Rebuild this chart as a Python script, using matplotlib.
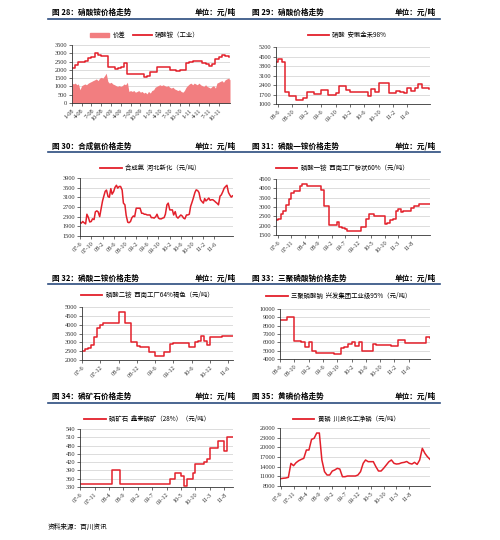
"""
Precios de productos químicos (fósforo / nitrógeno), 8 paneles.
"""

import numpy as np
import pandas as pd
import matplotlib
matplotlib.use('Agg')
import matplotlib.pyplot as plt
from matplotlib.lines import Line2D
from matplotlib.patches import Patch

plt.rcParams['font.family'] = ['Noto Sans CJK SC', 'DejaVu Sans']

ROJO = '#E3202B'
ROSA = '#F27E80'
AZUL = '#2B4C7E'
SERIF = 'Liberation Serif'

# ---------------- Datos ----------------
# Fig 28: nitrato de amonio (mensual) y diferencial (quincenal), desde 2008-01
p1_precio = [2100, 2300, 2500, 2500, 2550, 2700, 2750, 3000, 2900, 2850, 2850, 2200,
             2150, 2080, 2100, 2200, 2400, 1780, 1780, 1780, 1780, 1780, 1560, 1600,
             1880, 1880, 2160, 2160, 2160, 2160, 2020, 2020, 1920, 2020, 2020, 2420,
             2480, 2520, 2560, 2560, 2400, 2350, 2250, 2350, 2680, 2750, 2880, 2860,
             2750]
p1_spread = [1200, 1150, 1200, 1100, 1150, 800, 1050, 1100, 1150, 1100, 1200, 1250,
             1300, 1350, 1400, 1450, 1350, 1500, 1550, 1500, 1650, 1800, 1300, 1200,
             1250, 1150, 1100, 1050, 1000, 1050, 1000, 1050, 1150, 1100, 1250, 700,
             750, 700, 750, 650, 700, 750, 650, 700, 600, 650, 550, 700,
             600, 750, 800, 950, 1000, 1050, 1100, 1050, 1100, 1050, 1000, 1050,
             950, 900, 950, 850, 800, 750, 800, 700, 650, 750, 950, 1050,
             1150, 1200, 1100, 1200, 1150, 1100, 1200, 1100, 1050, 1000, 1100, 1000,
             950, 900, 1000, 1050, 900, 1200, 1250, 1300, 1350, 1250, 1400, 1450,
             1500, 1400]
p1_ticks = ['1-08', '4-08', '7-08', '10-08', '1-09', '4-09', '7-09', '10-09',
            '1-10', '4-10', '7-10', '10-10', '1-11', '4-11', '7-11', '10-11']

# Fig 29: ácido nítrico (mensual desde 2008-05)
p2_precio = [4100, 4350, 4100, 1900, 1600, 1600, 1300, 1300, 1450, 1900, 1850, 1750,
             1750, 2000, 2000, 1700, 1700, 1800, 2300, 2300, 2000, 1850, 1850, 1850,
             1850, 1850, 1600, 2100, 1850, 2550, 2550, 2550, 1800, 1800, 1950, 1900,
             1800, 2200, 1950, 2200, 2450, 2200, 2200, 2100]
p2_ticks = ['08-6', '08-10', '09-2', '09-6', '09-10', '10-2', '10-6', '10-10', '11-2', '11-6']

# Fig 30: amoníaco sintético (quincenal desde 2007-06)
p3_precio = [2070, 2030, 2100, 2050, 2000, 2400, 2260, 2080, 2100, 2210, 2180, 2500,
             2540, 2500, 2300, 2600, 2950, 3150, 3350, 3400, 3130, 3100, 3460, 3230,
             3340, 3510, 3600, 3480, 3550, 3550, 3400, 2860, 2790, 2350, 2070, 2050,
             2100, 2250, 2330, 2300, 2650, 2650, 2650, 2650, 2440, 2440, 2400, 2400,
             2370, 2370, 2370, 2260, 2260, 2240, 2300, 2400, 2240, 2210, 2210, 2240,
             2260, 2400, 2790, 2860, 2580, 2580, 2580, 2370, 2510, 2300, 2240, 2300,
             2370, 2330, 2240, 2210, 2370, 2370, 2400, 2720, 2900, 3070, 3300, 3410,
             3380, 3300, 3000, 2930, 2860, 3050, 2950, 3000, 3070, 2980, 3000, 3000,
             2950, 2900, 2850, 2790, 3150, 3200, 3340, 3480, 3550, 3600, 3300, 3200,
             3110, 3160]
p3_ticks = ['07-6', '07-10', '08-2', '08-6', '08-10', '09-2', '09-6', '09-10',
            '10-2', '10-6', '10-10', '11-2', '11-6']

# Fig 31: fosfato monoamónico (mensual desde 2007-05)
p4_precio = [2310, 2340, 2600, 2790, 3100, 3450, 3750, 3870, 3870, 4100, 4250, 4250,
             4100, 4100, 4100, 4150, 4100, 3920, 3030, 3030, 2040, 2040, 2040, 2220,
             1950, 1880, 1800, 1730, 1730, 1730, 1730, 1730, 1910, 1950, 2350, 2610,
             2610, 2520, 2520, 2520, 2520, 2070, 2160, 2280, 2360, 2800, 2900, 2720,
             2790, 2790, 2790, 2940, 3030, 3080, 3170, 3170, 3170, 3170, 3170, 3170]
p4_ticks = ['07-6', '07-11', '08-4', '08-9', '09-2', '09-7', '09-12', '10-5',
            '10-10', '11-3', '11-8']

# Fig 32: fosfato diamónico (mensual desde 2007-06)
p5_precio = [2530, 2620, 2700, 2850, 3320, 3790, 3980, 4110, 4110, 4110, 4110, 4110,
             4740, 4740, 4080, 4080, 3040, 3040, 2800, 2750, 2750, 2750, 2470, 2470,
             2230, 2230, 2230, 2470, 2470, 2900, 2940, 2940, 2940, 2940, 2940, 2750,
             2750, 3000, 3090, 3380, 3100, 2850, 3320, 3320, 3320, 3330, 3380, 3380,
             3380, 3380, 3380]
p5_ticks = ['07-6', '07-12', '08-6', '08-12', '09-6', '09-12', '10-6', '10-12', '11-6']

# Fig 33: tripolifosfato de sodio (mensual desde 2008-06)
p6_precio = [8680, 8680, 9080, 9080, 6200, 6200, 6080, 5400, 6080, 4960, 4760, 4760,
             4760, 4760, 4760, 4600, 4600, 5280, 5450, 5800, 6000, 5600, 6080, 4960,
             4960, 4960, 5800, 5680, 5680, 5680, 5680, 5560, 5560, 6280, 6280, 5960,
             5960, 5960, 5960, 5960, 5960, 6600, 6560]
p6_ticks = ['08-6', '08-10', '09-2', '09-6', '09-10', '10-2', '10-6', '10-10', '11-2', '11-6']

# Fig 34: roca fosfórica (mensual desde 2007-06)
p7_precio = [340, 340, 340, 340, 340, 340, 340, 340, 340, 340, 340, 390,
             390, 390, 340, 340, 340, 340, 340, 340, 340, 340, 340, 340,
             340, 340, 340, 340, 340, 340, 340, 360, 360, 382, 382, 370,
             335, 360, 360, 382, 412, 412, 412, 420, 430, 470, 470, 470,
             498, 498, 462, 510, 510, 510]
p7_ticks = p4_ticks

# Fig 35: fósforo amarillo (mensual desde 2007-06)
p8_precio = [10270, 10400, 10480, 10690, 15030, 14300, 15240, 15860, 16270, 16580, 19170, 19170,
             22480, 22790, 24440, 24440, 16070, 12450, 11410, 11410, 12650, 12960, 13480, 13270,
             10890, 10890, 11100, 11100, 11100, 11100, 11410, 12450, 15030, 16070, 15550, 15550,
             15550, 14000, 12650, 12650, 13500, 14510, 15500, 16070, 15030, 14820, 14900, 15200,
             15340, 15600, 15030, 14820, 15340, 14700, 16070, 19690, 18130, 17100, 16270]
p8_ticks = p4_ticks

# ---------------- Figura ----------------
fig = plt.figure(figsize=(5, 5.4), dpi=100)


def ejes(x0, y0, x1, y1):
    # posicion en pixeles de la imagen (500x540)
    return fig.add_axes([x0 / 500, 1 - y1 / 540, (x1 - x0) / 500, (y1 - y0) / 540])


def estilo(ax, yticks, tick_ini, paso, etiquetas, xlim):
    ax.set_ylim(yticks[0], yticks[-1])
    ax.set_yticks(yticks)
    ax.set_xlim(pd.Timestamp(xlim[0]), pd.Timestamp(xlim[1]))
    ax.set_xticks(pd.date_range(tick_ini, periods=len(etiquetas), freq=paso))
    ax.set_xticklabels(etiquetas, rotation=45, ha='right', rotation_mode='anchor')
    ax.grid(axis='y', color='#CFCFCF', lw=0.5)
    ax.set_axisbelow(True)
    for s in ['top', 'right']:
        ax.spines[s].set_visible(False)
    for s in ['left', 'bottom']:
        ax.spines[s].set_linewidth(0.6)
        ax.spines[s].set_color('#333333')
    ax.tick_params(labelsize=4.6, length=2, width=0.5, pad=1.5, colors='#333333')
    for t in ax.get_xticklabels() + ax.get_yticklabels():
        t.set_fontfamily(SERIF)


def leyenda(ax, cx, cy, texto):
    ax.legend([Line2D([], [], color=ROJO, lw=1.3)], [texto], loc='center',
              bbox_to_anchor=(cx / 500, 1 - cy / 540), bbox_transform=fig.transFigure,
              frameon=False, fontsize=4.6, handlelength=3.4, handletextpad=0.5,
              borderpad=0, borderaxespad=0)


def linea(ax, fechas, valores, escalon=True):
    ax.plot(fechas, valores, color=ROJO, lw=1.1,
            drawstyle='steps-post' if escalon else 'default')


# Panel 28
ax = ejes(72, 45, 230, 103)
f_sp = pd.date_range('2008-01-01', periods=len(p1_spread), freq='SMS')
f_pr = pd.date_range('2008-01-01', periods=len(p1_precio), freq='MS')
ax.fill_between(f_sp, 0, p1_spread, color=ROSA, lw=0)
linea(ax, f_pr, p1_precio)
estilo(ax, np.arange(0, 3501, 500), '2008-01-01', '3MS', p1_ticks,
       ('2008-01-01', '2012-01-15'))
ax.legend([Patch(color=ROSA), Line2D([], [], color=ROJO, lw=1.3)],
          ['价差', '硝酸铵（工业）'], loc='center', ncol=2,
          bbox_to_anchor=(145 / 500, 1 - 35 / 540), bbox_transform=fig.transFigure,
          frameon=False, fontsize=4.6, handlelength=3.0, handletextpad=0.5,
          columnspacing=1.2, borderpad=0, borderaxespad=0)

# Panel 29
ax = ejes(276, 47, 430, 104)
linea(ax, pd.date_range('2008-05-01', periods=len(p2_precio), freq='MS'), p2_precio)
estilo(ax, np.arange(1000, 5201, 700), '2008-06-01', '4MS', p2_ticks,
       ('2008-05-15', '2011-12-10'))
leyenda(ax, 347, 35, '硝酸  安徽金禾98%')

# Panel 30
ax = ejes(80, 178, 233, 236)
linea(ax, pd.date_range('2007-06-01', periods=len(p3_precio), freq='SMS'), p3_precio,
      escalon=False)
estilo(ax, np.arange(1500, 3901, 400), '2007-06-01', '4MS', p3_ticks,
       ('2007-06-01', '2011-12-20'))
leyenda(ax, 150, 168, '合成氨  河北新化（元/吨）')

# Panel 31
ax = ejes(276, 179, 430, 235)
linea(ax, pd.date_range('2007-05-01', periods=len(p4_precio), freq='MS'), p4_precio)
estilo(ax, np.arange(1500, 4501, 500), '2007-06-01', '5MS', p4_ticks,
       ('2007-05-08', '2012-03-01'))
leyenda(ax, 342, 168, '磷酸一铵  西南工厂粉状60%（元/吨）')

# Panel 32
ax = ejes(82, 307, 233, 360)
linea(ax, pd.date_range('2007-06-01', periods=len(p5_precio), freq='MS'), p5_precio)
estilo(ax, np.arange(2000, 5001, 500), '2007-06-01', '6MS', p5_ticks,
       ('2007-06-01', '2011-07-20'))
leyenda(ax, 147, 295, '磷酸二铵  西南工厂64%褐色（元/吨）')

# Panel 33
ax = ejes(280, 309, 430, 359)
linea(ax, pd.date_range('2008-06-01', periods=len(p6_precio), freq='MS'), p6_precio)
estilo(ax, np.arange(4000, 10001, 1000), '2008-06-01', '4MS', p6_ticks,
       ('2008-06-01', '2011-12-01'))
leyenda(ax, 339, 296, '三聚磷酸钠  兴发集团工业级95%（元/吨）')

# Panel 34
ax = ejes(80, 429, 233, 487)
linea(ax, pd.date_range('2007-06-01', periods=len(p7_precio), freq='MS'), p7_precio)
estilo(ax, np.arange(330, 541, 30), '2007-06-01', '5MS', p7_ticks,
       ('2007-06-01', '2011-11-01'))
leyenda(ax, 147, 419, '磷矿石  鑫泰磷矿（28%）（元/吨）')

# Panel 35
ax = ejes(280, 428, 430, 486)
linea(ax, pd.date_range('2007-06-01', periods=len(p8_precio), freq='MS'), p8_precio,
      escalon=False)
estilo(ax, np.arange(8000, 26001, 3000), '2007-06-01', '5MS', p8_ticks,
       ('2007-05-25', '2012-04-01'))
leyenda(ax, 346, 419, '黄磷  川投化工净磷（元/吨）')

# Encabezados y lineas azules
titulos = [('图 28：硝酸铵价格走势', '图 29：硝酸价格走势', 12, 19),
           ('图 30：合成氨价格走势', '图 31：磷酸一铵价格走势', 146, 152),
           ('图 32：磷酸二铵价格走势', '图 33：三聚磷酸钠价格走势', 278, 284),
           ('图 34：磷矿石价格走势', '图 35：黄磷价格走势', 396, 403)]
for izq, der, y, yl in titulos:
    fig.text(52 / 500, 1 - y / 540, izq, fontsize=5.5, fontweight='bold', va='center')
    fig.text(195 / 500, 1 - y / 540, '单位：元/吨', fontsize=5.5, fontweight='bold', va='center')
    fig.text(252 / 500, 1 - y / 540, der, fontsize=5.5, fontweight='bold', va='center')
    fig.text(395 / 500, 1 - y / 540, '单位：元/吨', fontsize=5.5, fontweight='bold', va='center')
    fig.add_artist(Line2D([48 / 500, 440 / 500], [1 - yl / 540, 1 - yl / 540],
                          color=AZUL, lw=1.2, transform=fig.transFigure))

fig.text(48 / 500, 1 - 527 / 540, '资料来源：百川资讯', fontsize=4.8, style='italic',
         va='center')

plt.savefig('out.png', dpi=100)
